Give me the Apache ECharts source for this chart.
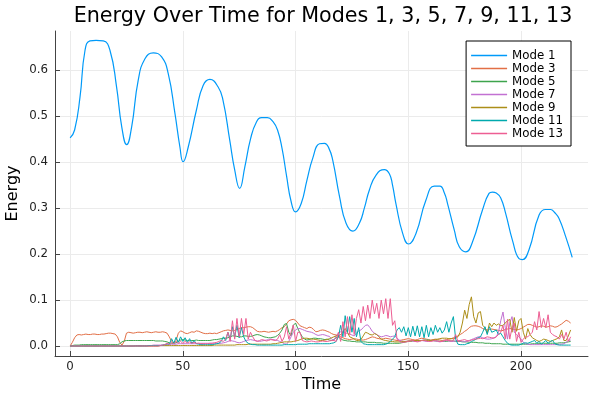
<!DOCTYPE html>
<html>
<head>
<meta charset="utf-8">
<script src="https://cdn.jsdelivr.net/npm/echarts@6/dist/echarts.min.js"></script>
<style>html,body{margin:0;padding:0;background:#fff}#c{width:600px;height:400px}</style>
</head>
<body>
<div id="c"></div>
<script>
// ---- data ----
const seriesNames = ['Mode 1', 'Mode 3', 'Mode 5', 'Mode 7', 'Mode 9', 'Mode 11', 'Mode 13'];
const xTicks = [0, 50, 100, 150, 200];
const yTicks = [0, 0.1, 0.2, 0.3, 0.4, 0.5, 0.6];

const mode1Time = [0, 2, 4.4, 6.6, 8.8, 11.5, 14.7, 17.7, 20.6, 22.9, 25.1, 27.3, 30.2, 33.2, 36.9, 40.6, 43.5, 46.5, 48.7, 50.1, 52.4, 56, 59, 62, 65.6, 67.8, 70.8, 73, 75.2, 77.5, 80, 82.6, 85, 87.5, 90, 92, 94, 96, 98, 100, 102.5, 105, 107.7, 110.6, 112.8, 114.8, 116.5, 119.5, 122.4, 125.4, 128.3, 130.5, 132.7, 135.7, 139.4, 141.6, 143, 144.5, 147.5, 150.1, 153.4, 157.8, 161.5, 164, 166, 167.4, 170.4, 172.6, 175.5, 178.5, 182.9, 185.8, 187.3, 189, 191, 193.2, 196.2, 199.1, 200.6, 203.5, 208, 210.9, 213.1, 215, 216.8, 219.8, 222.7];
const mode1 = [0.453, 0.47, 0.542, 0.643, 0.664, 0.665, 0.664, 0.643, 0.564, 0.477, 0.438, 0.477, 0.578, 0.625, 0.638, 0.629, 0.593, 0.506, 0.433, 0.401, 0.433, 0.513, 0.567, 0.58, 0.564, 0.535, 0.448, 0.383, 0.343, 0.39, 0.45, 0.487, 0.497, 0.497, 0.488, 0.47, 0.43, 0.37, 0.315, 0.292, 0.31, 0.36, 0.41, 0.44, 0.441, 0.43, 0.404, 0.325, 0.267, 0.25, 0.267, 0.30, 0.339, 0.372, 0.384, 0.375, 0.35, 0.31, 0.245, 0.222, 0.245, 0.317, 0.348, 0.348, 0.333, 0.31, 0.252, 0.216, 0.205, 0.227, 0.296, 0.332, 0.335, 0.333, 0.322, 0.288, 0.23, 0.19, 0.188, 0.209, 0.285, 0.297, 0.297, 0.29, 0.278, 0.238, 0.193];

// modes 3..13 sampled at time = 0, 1, 2, ... 222
const mode3 = [0,.008,.018,.024,.025,.024,.025,.026,.025,.025,
.026,.026,.025,.025,.026,.026,.027,.028,.028,.027,
.026,.02,.008,.002,.01,.028,.03,.029,.028,.029,
.03,.03,.029,.03,.031,.03,.029,.03,.031,.03,
.03,.031,.03,.028,.02,.01,.006,.012,.028,.033,
.031,.028,.027,.029,.031,.03,.033,.032,.03,.028,
.027,.027,.028,.027,.028,.027,.029,.031,.033,.034,
.035,.034,.033,.034,.036,.038,.04,.04,.041,.042,
.042,.04,.036,.032,.031,.031,.032,.031,.03,.031,
.032,.031,.033,.036,.04,.042,.048,.055,.057,.058,
.056,.05,.044,.042,.04,.038,.041,.04,.036,.031,
.032,.034,.035,.034,.032,.03,.027,.025,.024,.023,
.02,.018,.016,.015,.014,.015,.016,.015,.014,.013,
.013,.014,.016,.018,.02,.019,.017,.016,.015,.016,
.017,.016,.015,.014,.013,.012,.012,.013,.014,.015,
.016,.015,.014,.013,.014,.016,.017,.016,.015,.014,
.013,.014,.015,.014,.013,.012,.013,.014,.015,.016,
.018,.02,.022,.025,.028,.032,.035,.04,.043,.044,
.044,.043,.041,.038,.036,.035,.036,.037,.036,.035,
.034,.033,.034,.036,.037,.038,.037,.036,.035,.036,
.038,.041,.044,.047,.047,.045,.043,.041,.042,.044,
.043,.041,.042,.044,.043,.041,.042,.045,.048,.052,
.056,.054,.05];
const mode5 = [0,.001,.002,.002,.002,.003,.003,.003,.003,.003,
.003,.003,.003,.003,.003,.003,.003,.003,.003,.003,
.003,.003,.005,.009,.011,.012,.012,.012,.012,.012,
.012,.012,.012,.012,.012,.012,.012,.012,.011,.011,
.011,.011,.01,.009,.007,.006,.006,.007,.01,.013,
.014,.013,.012,.012,.012,.012,.013,.012,.012,.012,
.012,.012,.012,.013,.014,.014,.015,.016,.017,.017,
.018,.02,.022,.022,.021,.02,.02,.022,.022,.021,
.021,.022,.024,.025,.024,.022,.02,.019,.018,.018,
.019,.02,.023,.028,.035,.047,.049,.03,.022,.045,
.05,.038,.028,.02,.015,.013,.014,.016,.017,.017,
.016,.016,.015,.014,.015,.013,.012,.014,.018,.02,
.016,.013,.012,.011,.011,.01,.01,.009,.009,.009,
.009,.009,.008,.008,.008,.008,.007,.007,.007,.006,
.006,.006,.006,.006,.006,.006,.006,.007,.008,.009,
.01,.01,.011,.011,.012,.012,.012,.013,.013,.013,
.012,.012,.011,.011,.01,.01,.01,.01,.011,.011,
.011,.01,.01,.01,.009,.009,.009,.008,.008,.008,
.008,.007,.007,.007,.006,.006,.006,.005,.005,.005,
.005,.005,.004,.004,.004,.004,.004,.004,.004,.004,
.004,.004,.004,.004,.004,.005,.005,.005,.005,.006,
.006,.006,.006,.006,.006,.006,.006,.007,.007,.007,
.008,.009,.01];
const mode7 = [0,0,0,0,0,0,0,0,0,0,
0,0,0,0,0,0,0,0,0,0,
0,0,0,0,0,0,0,0,0,.001,
.001,.001,.001,.001,.001,.001,.001,.002,.002,.002,
.002,.002,.003,.003,.003,.004,.004,.004,.005,.005,
.005,.005,.005,.005,.005,.005,.005,.006,.006,.006,
.006,.006,.006,.006,.006,.006,.006,.006,.007,.008,
.01,.012,.011,.01,.008,.007,.008,.01,.012,.013,
.014,.013,.012,.011,.01,.011,.012,.013,.014,.015,
.014,.013,.012,.01,.008,.005,.004,.01,.02,.03,
.035,.038,.038,.036,.034,.032,.031,.03,.028,.025,
.023,.024,.025,.024,.022,.021,.015,.012,.022,.028,
.031,.031,.029,.027,.026,.024,.022,.028,.033,.035,
.04,.045,.046,.04,.032,.028,.025,.022,.02,.021,
.023,.022,.02,.021,.022,.017,.013,.011,.01,.01,
.011,.012,.011,.01,.01,.011,.012,.011,.01,.01,
.011,.012,.011,.01,.009,.01,.011,.012,.011,.01,
.01,.011,.012,.011,.01,.009,.01,.012,.014,.016,
.018,.02,.02,.018,.016,.015,.015,.016,.018,.02,
.03,.055,.074,.04,.015,.05,.064,.03,.025,.02,
.015,.008,.005,.004,.003,.003,.003,.003,.003,.003,
.003,.003,.003,.003,.003,.003,.003,.004,.004,.005,
.008,.012,.013];
const mode9 = [0,0,0,0,0,0,0,0,0,0,
0,0,0,0,0,0,0,0,0,0,
0,0,0,0,0,0,0,0,0,0,
0,0,0,0,0,0,0,0,0,0,
.001,.001,.001,.001,.001,.001,.001,.001,.001,.001,
.001,.001,.001,.001,.001,.001,.001,.001,.001,.001,
.001,.001,.001,.001,.002,.002,.002,.002,.002,.002,
.002,.002,.002,.002,.003,.003,.003,.003,.003,.004,
.004,.004,.004,.004,.004,.004,.004,.004,.004,.004,
.005,.005,.006,.007,.008,.009,.009,.009,.009,.01,
.011,.012,.014,.016,.017,.017,.016,.015,.015,.014,
.013,.012,.012,.013,.014,.016,.018,.02,.022,.022,
.025,.03,.038,.03,.02,.018,.015,.012,.012,.014,
.022,.03,.028,.025,.024,.027,.025,.02,.015,.013,
.012,.011,.01,.01,.009,.009,.009,.01,.01,.01,
.011,.011,.012,.012,.012,.012,.012,.012,.012,.012,
.012,.013,.014,.015,.016,.017,.017,.017,.016,.016,
.016,.017,.02,.03,.05,.078,.06,.09,.107,.064,
.05,.072,.075,.045,.04,.028,.05,.042,.05,.045,
.048,.044,.045,.05,.055,.058,.03,.062,.032,.055,
.06,.03,.015,.038,.025,.018,.015,.012,.01,.012,
.015,.014,.012,.01,.012,.014,.016,.02,.035,.012,
.012,.022,.035];
const mode11 = [0,0,0,0,0,0,0,0,0,0,
0,0,0,0,0,0,0,0,0,0,
0,0,0,0,0,0,0,0,0,0,
0,0,0,0,0,.001,.001,.001,.001,.001,
.001,.002,.003,.005,.004,.016,.006,.019,.008,.02,
.01,.018,.008,.016,.006,.012,.005,.004,.003,.003,
.003,.003,.003,.003,.004,.005,.006,.01,.02,.012,
.03,.015,.042,.02,.045,.018,.04,.02,.01,.006,
.004,.003,.003,.002,.002,.002,.002,.002,.002,.002,
.002,.002,.002,.002,.002,.003,.003,.003,.003,.003,
.003,.004,.004,.004,.004,.004,.005,.005,.005,.005,
.005,.005,.005,.005,.005,.005,.006,.007,.01,.02,
.045,.02,.066,.03,.064,.03,.06,.02,.04,.01,
.005,.004,.003,.003,.003,.003,.003,.003,.003,.003,
.004,.006,.01,.015,.02,.035,.04,.03,.042,.022,
.04,.02,.043,.022,.044,.02,.042,.018,.045,.02,
.04,.025,.045,.03,.04,.028,.035,.053,.03,.05,
.064,.015,.004,.003,.003,.003,.005,.006,.01,.012,
.015,.018,.02,.03,.042,.025,.042,.03,.032,.035,
.025,.028,.02,.012,.006,.003,.002,.002,.002,.002,
.004,.006,.007,.006,.008,.01,.012,.006,.01,.004,
.008,.012,.006,.01,.012,.005,.003,.002,.002,.002,
.002,.002,.002];
const mode13 = [0,0,0,0,0,0,0,0,0,0,
0,0,0,0,0,0,0,0,0,0,
0,0,0,0,0,0,0,0,0,0,
0,0,0,0,0,0,0,0,0,0,
.001,.002,.003,.006,.004,.008,.005,.01,.006,.01,
.006,.01,.007,.009,.006,.008,.006,.006,.005,.005,
.005,.005,.006,.006,.007,.008,.01,.012,.01,.015,
.03,.01,.055,.015,.06,.02,.06,.025,.06,.015,
.03,.02,.012,.01,.012,.014,.013,.011,.012,.014,
.013,.012,.015,.025,.01,.02,.042,.015,.03,.046,
.01,.03,.03,.012,.01,.009,.01,.011,.01,.009,
.009,.01,.011,.01,.01,.011,.012,.012,.01,.03,
.01,.053,.02,.064,.025,.068,.025,.06,.079,.05,
.086,.055,.089,.06,.1,.07,.093,.06,.1,.07,
.103,.06,.103,.045,.055,.015,.01,.008,.008,.009,
.01,.011,.012,.01,.009,.01,.012,.013,.011,.01,
.01,.011,.012,.011,.01,.01,.012,.013,.012,.011,
.012,.025,.01,.012,.013,.014,.012,.011,.013,.014,
.015,.016,.017,.016,.018,.02,.019,.018,.017,.02,
.025,.03,.045,.015,.058,.015,.04,.05,.01,.03,
.008,.015,.02,.02,.025,.03,.053,.035,.075,.04,
.06,.04,.068,.03,.025,.022,.02,.015,.025,.015,
.03,.01,.02];

const colors = ['#009af9', '#e26f46', '#3da44d', '#c271d2', '#ac8e18', '#00a9ad', '#ed5e93'];

// ---- build options ----
function pairs(ts, vs) { return vs.map((v, i) => [ts[i], v]); }
function stepPairs(vs) { return vs.map((v, i) => [i, v]); }

const smallModes = [mode3, mode5, mode7, mode9, mode11, mode13];
const series = [{
  name: seriesNames[0], type: 'line', data: pairs(mode1Time, mode1),
  showSymbol: false, smooth: 0.5, lineStyle: { width: 1.2, color: colors[0] },
  itemStyle: { color: colors[0] }, animation: false
}];
smallModes.forEach((m, k) => {
  series.push({
    name: seriesNames[k + 1], type: 'line', data: stepPairs(m),
    showSymbol: false, lineStyle: { width: 1, color: colors[k + 1] },
    itemStyle: { color: colors[k + 1] }, animation: false
  });
});

const axisColor = '#444';
const tickFont = 11.8;
const chart = echarts.init(document.getElementById('c'), null, { renderer: 'canvas' });
chart.setOption({
  animation: false,
  backgroundColor: '#fff',
  title: {
    text: 'Energy Over Time for Modes 1, 3, 5, 7, 9, 11, 13',
    left: 318, top: 1, textAlign: 'center',
    textStyle: { fontFamily: 'DejaVu Sans', fontSize: 20.7, fontWeight: 'normal', color: '#000' }
  },
  grid: { left: 55, right: 12, top: 31, bottom: 44, containLabel: false, outerBoundsMode: 'none' },
  xAxis: {
    type: 'value', min: -6.7, max: 229.7,
    name: 'Time', nameLocation: 'middle', nameGap: 21, nameMoveOverlap: false,
    nameTextStyle: { fontFamily: 'DejaVu Sans', fontSize: 16, color: '#000' },
    axisLine: { show: true, onZero: false, lineStyle: { color: axisColor, width: 1 } },
    axisTick: { show: true, inside: true, length: 5, customValues: xTicks, lineStyle: { color: axisColor } },
    axisLabel: { customValues: xTicks, margin: 5, fontFamily: 'DejaVu Sans', fontSize: tickFont, color: '#222',
      formatter: v => String(v) },
    splitLine: { show: true, lineStyle: { color: '#ebebeb', width: 1 } }
  },
  yAxis: {
    type: 'value', min: -0.0217, max: 0.6854,
    name: 'Energy', nameLocation: 'middle', nameGap: 34, nameMoveOverlap: false,
    nameTextStyle: { fontFamily: 'DejaVu Sans', fontSize: 16, color: '#000' },
    axisLine: { show: true, onZero: false, lineStyle: { color: axisColor, width: 1 } },
    axisTick: { show: true, inside: true, length: 5, customValues: yTicks, lineStyle: { color: axisColor } },
    axisLabel: { customValues: yTicks, margin: 7, fontFamily: 'DejaVu Sans', fontSize: tickFont, color: '#222',
      formatter: v => v.toFixed(1) },
    splitLine: { show: true, lineStyle: { color: '#ebebeb', width: 1 } }
  },
  legend: {
    data: seriesNames, orient: 'vertical', right: 29, top: 41,
    icon: 'rect', itemWidth: 36, itemHeight: 1.3, itemGap: 0,
    padding: [8, 8, 6, 5],
    backgroundColor: '#fff', borderColor: '#000', borderWidth: 1, borderRadius: 0,
    textStyle: { fontFamily: 'DejaVu Sans', fontSize: 11.8, color: '#000', lineHeight: 13 },
    z: 10
  },
  series: series
});
</script>
</body>
</html>
